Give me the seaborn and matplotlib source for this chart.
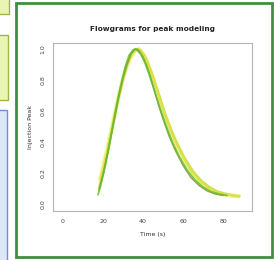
import matplotlib
matplotlib.use("Agg")
import matplotlib.pyplot as plt
from matplotlib.patches import Rectangle
import seaborn as sns

# Curve values (time in s, normalised injection peak)
t_green = [17.5, 19, 21, 23, 25, 27, 29, 31, 33, 35, 36, 37, 39, 41, 43, 45, 47, 49, 52, 55, 58, 62, 66, 70, 74, 78, 82]
green = [0.06, 0.13, 0.24, 0.37, 0.51, 0.65, 0.77, 0.88, 0.96, 0.995, 1.0, 0.995, 0.965, 0.91, 0.84, 0.76, 0.68, 0.60, 0.49, 0.39, 0.31, 0.22, 0.155, 0.11, 0.08, 0.065, 0.055]

t_olive = [18, 20, 22, 24, 26, 28, 30, 32, 34, 36, 37, 38, 40, 42, 44, 46, 48, 50, 53, 56, 60, 64, 68, 72, 76, 80]
olive = [0.09, 0.19, 0.31, 0.44, 0.57, 0.70, 0.81, 0.90, 0.97, 1.0, 1.0, 0.99, 0.95, 0.89, 0.81, 0.72, 0.63, 0.55, 0.44, 0.35, 0.25, 0.17, 0.12, 0.085, 0.065, 0.055]

t_lime = [18, 20, 22, 24, 26, 28, 30, 32, 34, 36, 37.5, 39, 41, 43, 45, 47, 49, 51, 54, 57, 61, 65, 69, 73, 77, 81, 85, 88]
lime = [0.10, 0.20, 0.32, 0.45, 0.58, 0.70, 0.81, 0.90, 0.96, 0.995, 1.0, 0.99, 0.95, 0.89, 0.82, 0.74, 0.66, 0.58, 0.48, 0.39, 0.29, 0.21, 0.15, 0.11, 0.08, 0.065, 0.055, 0.05]

t_yellow = [18.5, 20, 22, 24, 26, 28, 30, 32, 34, 36, 38, 40, 42, 44, 46, 48, 50, 53, 56, 60, 64, 68, 72, 76, 80, 84, 88]
yellow = [0.16, 0.24, 0.35, 0.47, 0.59, 0.71, 0.81, 0.89, 0.95, 0.99, 1.0, 0.97, 0.92, 0.85, 0.77, 0.69, 0.61, 0.50, 0.40, 0.30, 0.21, 0.15, 0.11, 0.08, 0.065, 0.055, 0.05]

x_ticks = [0, 20, 40, 60, 80]
y_ticks = [0.0, 0.2, 0.4, 0.6, 0.8, 1.0]

sns.set_style("white")
fig = plt.figure(figsize=(2.74, 2.60), dpi=100)
fig.patch.set_facecolor("white")

# slide boxes peeking in on the left
fig.patches.append(Rectangle((-0.02, 0.946), 0.052, 0.08, transform=fig.transFigure,
                             facecolor="#eaf5b4", edgecolor="#9cb84a", lw=1.0))
fig.patches.append(Rectangle((-0.02, 0.615), 0.048, 0.25, transform=fig.transFigure,
                             facecolor="#eaf5b4", edgecolor="#9cb84a", lw=1.0))
fig.patches.append(Rectangle((-0.02, -0.02), 0.046, 0.597, transform=fig.transFigure,
                             facecolor="#dce7f8", edgecolor="#7090c8", lw=1.0))
# green frame around the plot
fig.patches.append(Rectangle((16 / 274, 3 / 260), 256 / 274, 254 / 260, transform=fig.transFigure,
                             fill=False, edgecolor="#3f8f3f", lw=2.0))

ax = fig.add_axes([53 / 274, 1 - 211 / 260, 199 / 274, 168 / 260])

series = [
    (t_yellow, yellow, "#f2f07a", 3.2, 0.6),
    (t_lime, lime, "#c8dc3c", 2.0, 0.85),
    (t_yellow, yellow, "#e2e24a", 1.4, 0.8),
    (t_olive, olive, "#7f8f36", 1.1, 0.8),
    (t_green, green, "#62c02c", 1.3, 0.85),
]
for t, v, c, w, a in series:
    sns.lineplot(x=t, y=v, ax=ax, color=c, lw=w, alpha=a)

ax.set_xlim(-5, 94.5)
ax.set_ylim(-0.045, 1.04)
ax.set_xticks(x_ticks)
ax.set_yticks(y_ticks)
ax.set_xticklabels([str(v) for v in x_ticks], fontsize=4.5, color="#444444")
ax.set_yticklabels(["0.0", "0.2", "0.4", "0.6", "0.8", "1.0"], fontsize=4.5,
                   color="#444444", rotation=90, va="center")
ax.tick_params(axis="both", direction="out", length=2.5, width=0.6, colors="#999999",
               labelcolor="#444444", pad=3)
for s in ax.spines.values():
    s.set_color("#b5b5b5")
    s.set_linewidth(0.8)

ax.set_title("Flowgrams for peak modeling", fontsize=5.3, fontweight="bold", color="#222222", pad=9)
ax.set_xlabel("Time (s)", fontsize=4.5, color="#333333", labelpad=6)
ax.set_ylabel("Injection Peak", fontsize=4.5, color="#333333", labelpad=5)

fig.savefig("out.png", dpi=100)
